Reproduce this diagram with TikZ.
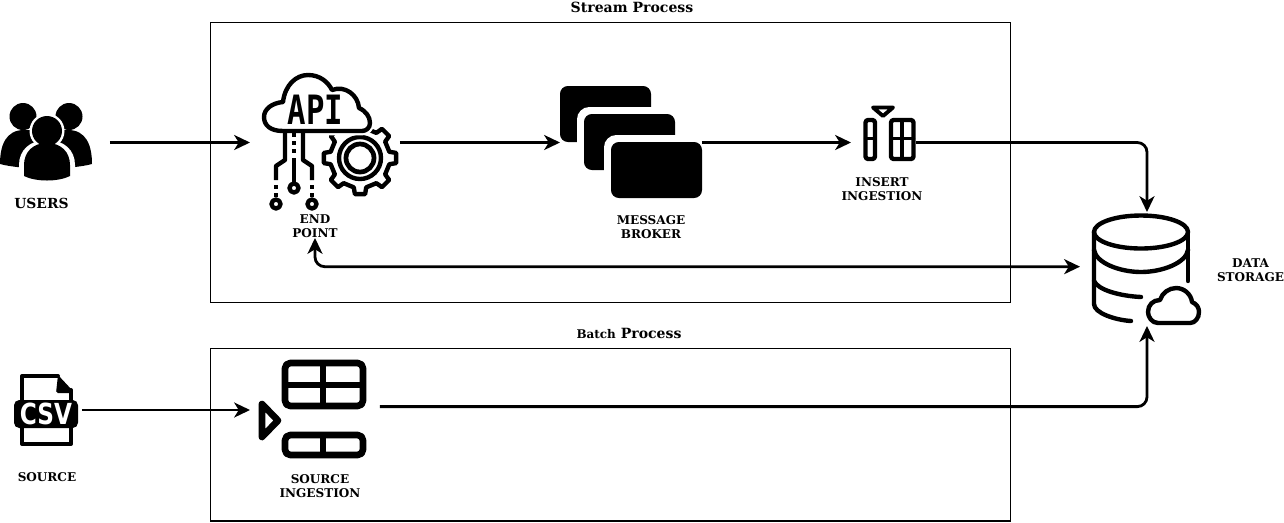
\documentclass[tikz,border=0pt]{standalone}
\usepackage{fontspec}
\setmainfont{DejaVu Serif}
\newfontfamily\csvfont{DejaVu Sans}
\newfontfamily\apifont{DejaVu Sans Mono}
\usetikzlibrary{arrows.meta}
\begin{document}
\begin{tikzpicture}[x=0.02cm,y=-0.02cm,inner sep=0pt,outer sep=0pt,
sysbox/.style={draw,line width=0.6pt},
iconbox/.style={rectangle},
flow/.style={line width=1.6pt,rounded corners=5.5pt,-{Stealth[length=9pt,width=8.5pt,inset=2.6pt]}},
backflow/.style={line width=1.6pt,rounded corners=5.5pt,{Stealth[length=9pt,width=8.5pt,inset=2.6pt]}-{Stealth[length=9pt,width=8.5pt,inset=2.6pt]}},
tag/.style={font=\fontsize{6.85}{7.94}\selectfont\bfseries,align=center},
title/.style={font=\fontsize{8}{9}\selectfont\bfseries},
thin icon/.style={line width=2.5pt,line cap=round,line join=round},
fat icon/.style={line width=3.8pt,line join=round}]

\useasboundingbox (0,0) rectangle (1284,522);

% process boxes
\draw (610.5,162.5) node[sysbox,minimum width=16cm,minimum height=5.6cm] (stream) {};
\draw (610.5,434.5) node[sysbox,minimum width=16cm,minimum height=3.46cm] (batch) {};
\draw (632,7.5) node[title] (streamtitle) {Stream Process};
\draw (629,333) node[title] (batchtitle) {{\fontsize{6.8}{9}\selectfont Batch} Process};

% connector anchors
\draw (55,142.5) node[iconbox,minimum width=2.2cm,minimum height=1.6cm] (users) {};
\draw (325,142.5) node[iconbox,minimum width=3cm,minimum height=2.8cm] (api) {};
\draw (631,142.5) node[iconbox,minimum width=2.84cm,minimum height=2.2cm] (broker) {};
\draw (883.5,142.5) node[iconbox,minimum width=1.3cm,minimum height=1.1cm] (insert) {};
\draw (1147,269) node[iconbox,minimum width=2.68cm,minimum height=2.28cm] (store) {};
\draw (48,410) node[iconbox,minimum width=1.36cm,minimum height=1.4cm] (csv) {};
\draw (315,410) node[iconbox,minimum width=2.6cm,minimum height=2cm] (ingest) {};

% users
\fill (23,116.5) circle (13.5);
\fill (69,116.5) circle (13.5);
\fill (0,164) .. controls (0,145) and (6,130) .. (24,130) -- (68,130) .. controls (86,130) and (92,145) .. (92,164) .. controls (70,170) and (22,170) .. (0,164) -- cycle;
\fill[white] (47,131) circle (17.5);
\fill[white] (19,182) -- (19,165) .. controls (19,150) and (30,140) .. (47,140) .. controls (64,140) and (75,150) .. (75,165) -- (75,182) -- cycle;
\fill (47,131) circle (15);
\fill (24,176) -- (24,165) .. controls (24,152) and (33,143) .. (47,143) .. controls (61,143) and (70,152) .. (70,165) -- (70,176) .. controls (58,182) and (36,182) .. (24,176) -- cycle;

% api gear and cloud
\begin{scope}[shift={(360,158)}]
\draw[thin icon] (-12:30) \foreach \a in {0,45,...,315} {-- (\a-12:30) -- (\a-8:36.5) -- (\a+8:36.5) -- (\a+12:30)} -- cycle;
\draw[thin icon] (0,0) circle (21);
\draw[thin icon,line width=2.7pt] (0,0) circle (14);
\end{scope}
\filldraw[fill=white,draw=white,line width=5pt] (283,131) .. controls (270,131) and (264,125) .. (264,117) .. controls (264,109) and (272,103) .. (283,102) .. controls (285,85) and (296,75) .. (308,75) .. controls (320,75) and (328,82) .. (332,90) .. controls (345,85) and (358,95) .. (359,108) .. controls (366,111) and (370,117) .. (370,123) .. controls (370,128) and (366,131) .. (362,131) -- cycle;
\draw[thin icon] (283,131) .. controls (270,131) and (264,125) .. (264,117) .. controls (264,109) and (272,103) .. (283,102) .. controls (285,85) and (296,75) .. (308,75) .. controls (320,75) and (328,82) .. (332,90) .. controls (345,85) and (358,95) .. (359,108) .. controls (366,111) and (370,117) .. (370,123) .. controls (370,128) and (366,131) .. (362,131) -- cycle;
\draw (315.5,110) node (apitext) {\apifont\bfseries\fontsize{23}{23}\selectfont\scalebox{0.76}[1]{API}};
\draw[thin icon,line cap=butt] (285,131) -- (285,160) -- (276,166) -- (276,180);
\draw[thin icon,line cap=butt] (303,131) -- (303,160) -- (312,166) -- (312,180);
\draw[thin icon,line cap=butt] (294,158) -- (294,183);
\draw[thin icon,line cap=butt,dash pattern=on 2.4pt off 2.2pt] (294,133) -- (294,157);
\draw[thin icon,line cap=butt,dash pattern=on 2.4pt off 2.2pt] (276,185) -- (276,198);
\draw[thin icon,line cap=butt,dash pattern=on 2.4pt off 2.2pt] (312,185) -- (312,198);
\foreach \x/\y in {294/188,276/204,312/204} \draw[thin icon] (\x,\y) circle (4.5);

% broker cards
\foreach \x/\y in {560/86,584/114,611/142} {
\fill[white,rounded corners=7pt] (\x-7,\y-7) rectangle (\x+98,\y+63);
\fill[rounded corners=4.5pt] (\x,\y) rectangle (\x+91,\y+56);
}

% insert icon
\draw[thin icon,line width=2.2pt] (873,107.5) -- (893,107.5) -- (883,116) -- cycle;
\draw[thin icon,rounded corners=1.5pt] (865.5,120) rectangle (875,159);
\draw[thin icon,line width=2pt] (865.5,138.5) -- (875,138.5);
\draw[thin icon,rounded corners=1.5pt] (891,120) rectangle (913.5,159);
\draw[thin icon,line width=2pt] (902,120) -- (902,159) (891,138.5) -- (913.5,138.5);

% data storage
\draw[thin icon] (1141,232) ellipse (47 and 16.5);
\draw[thin icon] (1094,232) -- (1094,304) .. controls (1094,313) and (1115,320) .. (1131,321);
\draw[thin icon] (1188,232) -- (1188,281);
\draw[thin icon] (1094,250) .. controls (1096,263) and (1120,272) .. (1141,272) .. controls (1162,272) and (1186,263) .. (1188,250);
\draw[thin icon] (1094,281) .. controls (1098,290) and (1120,296) .. (1141,297);
\draw[thin icon] (1158,323) .. controls (1152,323) and (1148,317) .. (1148,312) .. controls (1148,305) and (1153,300) .. (1160,300) .. controls (1162,293) and (1169,288) .. (1176,288) .. controls (1184,288) and (1191,294) .. (1192,302) .. controls (1197,304) and (1199,308) .. (1199,312) .. controls (1199,318) and (1195,323) .. (1190,323) -- cycle;

% csv file
\draw[thin icon,line width=2.3pt] (58,376) -- (22,376) -- (22,444) -- (71,444) -- (71,390);
\fill[rounded corners=1pt] (58,375) -- (72,390) -- (72,393) -- (56,393) -- cycle;
\fill[rounded corners=3pt] (14,400) rectangle (78,428);
\draw (46,414) node[text=white] (csvtext) {\csvfont\bfseries\fontsize{16.5}{16.5}\selectfont\scalebox{0.8}[1]{CSV}};

% source ingestion icon
\draw[fat icon] (262,404) -- (278,420.5) -- (262,437) -- cycle;
\draw[fat icon,rounded corners=3pt] (285,363) rectangle (363,406);
\draw[fat icon] (323,363) -- (323,406) (285,385) -- (363,385);
\draw[fat icon,rounded corners=3pt] (285,435) rectangle (363,455);
\draw[fat icon] (323,435) -- (323,455);

% labels
\draw (41.5,203.5) node[tag,font=\fontsize{7.9}{9}\selectfont\bfseries] (userstag) {USERS};
\draw (315,226.5) node[tag] (apitag) {END\\POINT};
\draw (651,227.5) node[tag] (brokertag) {MESSAGE\\BROKER};
\draw (882,189.5) node[tag] (inserttag) {INSERT\\INGESTION};
\draw (1250.5,270.5) node[tag] (storetag) {DATA\\STORAGE};
\draw (47,477.5) node[tag] (csvtag) {SOURCE};
\draw (320,486.5) node[tag] (ingesttag) {SOURCE\\INGESTION};

% connectors
\draw[flow] (users) -- (api);
\draw[flow] (api) -- (broker);
\draw[flow] (broker) -- (insert);
\draw[flow] (insert) -| (store.north);
\draw[backflow] (apitag.south) |- (store.178.3);
\draw[flow] (csv) -- (ingest);
\draw[flow] (ingest.3.5) -| (store.south);
\end{tikzpicture}
\end{document}
